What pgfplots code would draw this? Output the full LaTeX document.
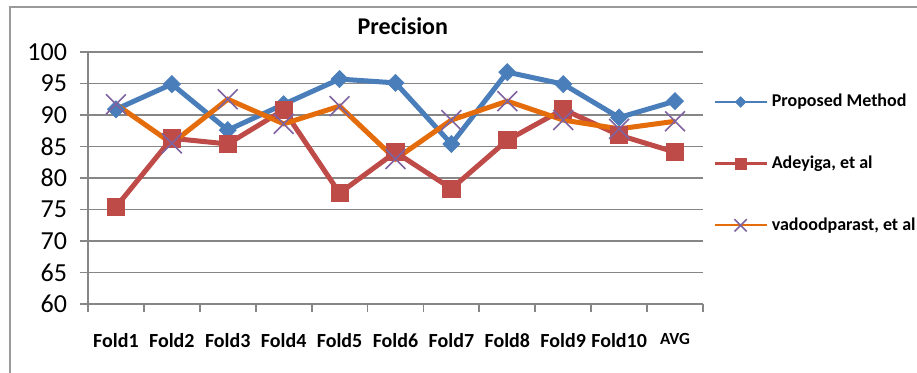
\documentclass[border=0pt]{standalone}
\usepackage{fontspec}
\setmainfont{Carlito}
\usepackage{pgfplots}
\pgfplotsset{compat=1.18}
\definecolor{cblue}{HTML}{4A7EBB}
\definecolor{cred}{HTML}{BE4B48}
\definecolor{corange}{HTML}{E46C0A}
\definecolor{cpurple}{HTML}{7F63A1}
\definecolor{cgrid}{HTML}{868686}
\definecolor{cframe}{HTML}{9A9A9A}
\begin{document}
\begin{tikzpicture}
\path[use as bounding box] (-44pt,-34.5pt) rectangle (414.5pt,152pt);
\begin{axis}[
  at={(0,0)}, anchor=south west,
  scale only axis, width=307.5pt, height=126pt,
  xmin=-0.5, xmax=10.5, ymin=60, ymax=100,
  ytick={60,65,...,100},
  xtick={-0.5,0.5,...,10.5},
  x tick label as interval,
  xticklabels={Fold1,Fold2,Fold3,Fold4,Fold5,Fold6,Fold7,Fold8,Fold9,Fold10,{\fontsize{8.5}{10}\selectfont AVG}},
  axis x line=bottom, axis y line=left,
  axis line style={-, draw=cgrid, line width=0.9pt},
  tick align=outside, major tick length=4pt,
  tick style={draw=cgrid, line width=0.9pt},
  ymajorgrids, grid style={draw=cgrid, line width=0.9pt},
  /pgf/number format/assume math mode=true,
  yticklabel style={font=\fontsize{13}{15}\selectfont, xshift=-3pt},
  xticklabel style={font=\bfseries\fontsize{10}{12}\selectfont, yshift=-7pt},
  title={Precision},
  title style={at={(0.512,1.055)}, anchor=center, font=\bfseries\fontsize{12}{14}\selectfont},
  legend style={at={(1.0163,0.85)}, anchor=north west, draw=none, fill=none,
    font=\bfseries\fontsize{9}{11}\selectfont, row sep=19pt, inner sep=0pt},
  legend cell align=left,
  legend image code/.code={\draw[mark repeat=2,mark phase=2,#1,line width=1.2pt,every mark/.append style={scale=0.62}] plot coordinates {(0pt,0pt) (13pt,0pt) (26pt,0pt)};},
  clip=false,
]
\addplot[cblue, line width=2.5pt, mark=square*, mark size=3pt,
  mark options={rotate=45, line width=0.4pt, fill=cblue, draw=cblue}]
  coordinates {(0,90.9) (1,94.9) (2,87.6) (3,91.7) (4,95.7) (5,95.1) (6,85.4) (7,96.8) (8,94.9) (9,89.6) (10,92.2)};
\addlegendentry{Proposed Method}
\addplot[cred, line width=2.5pt, mark=square*, mark size=4.3pt,
  mark options={line width=0.4pt, fill=cred, draw=cred}]
  coordinates {(0,75.4) (1,86.3) (2,85.4) (3,90.8) (4,77.6) (5,84.1) (6,78.3) (7,86.0) (8,90.9) (9,86.8) (10,84.1)};
\addlegendentry{Adeyiga, et al}
\addplot[corange, line width=2.5pt, mark=x, mark size=7pt,
  mark options={draw=cpurple, line width=0.8pt}]
  coordinates {(0,91.7) (1,85.5) (2,92.5) (3,88.6) (4,91.4) (5,83.0) (6,89.2) (7,92.2) (8,89.2) (9,87.8) (10,89.0)};
\addlegendentry{vadoodparast, et al}
\end{axis}
\draw[cframe, line width=0.8pt] (-39pt,-40pt) -- (-39pt,148.5pt) -- (420pt,148.5pt);
\end{tikzpicture}
\end{document}
